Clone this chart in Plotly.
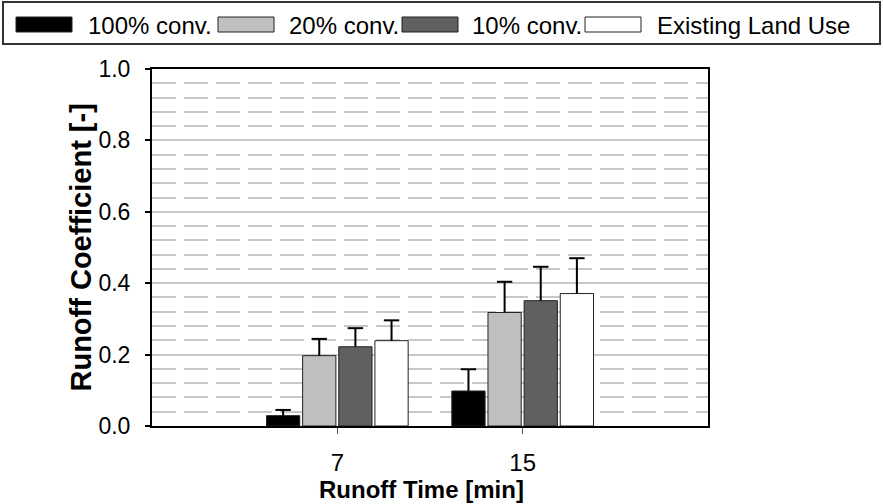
import plotly.graph_objects as go

# ---- data ----
times = ["7", "15"]
series_names = ["100% conv.", "20% conv.", "10% conv.", "Existing Land Use"]
series_colors = ["#000000", "#c0c0c0", "#606060", "#ffffff"]
conv100 = [0.029, 0.098]
conv20 = [0.197, 0.318]
conv10 = [0.222, 0.351]
existing = [0.239, 0.371]
err100 = [0.016, 0.061]
err20 = [0.047, 0.086]
err10 = [0.052, 0.095]
err_existing = [0.057, 0.099]
y_ticks = [0.0, 0.2, 0.4, 0.6, 0.8, 1.0]

values = [conv100, conv20, conv10, existing]
errors = [err100, err20, err10, err_existing]

W, H = 883, 504
L, R, T, B = 152, 175, 69, 78
PW, PH = W - L - R, H - T - B

def px(x):
    return (x - L) / PW

def py(y):
    return (H - B - y) / PH

FONT = "Liberation Sans, Arial, sans-serif"
BARGAP = 0.22

fig = go.Figure()
for name, col, vals, errs in zip(series_names, series_colors, values, errors):
    fig.add_trace(go.Bar(
        x=times, y=vals, name=name, offsetgroup=name, alignmentgroup="g",
        marker=dict(color=col, line=dict(color="#222222", width=1)),
        error_y=dict(type="data", array=errs, arrayminus=[0] * len(errs),
                     symmetric=False, color="#000000", thickness=2, width=0),
        showlegend=False,
    ))
# caps of the (upper-only) error bars
for name, vals, errs in zip(series_names, values, errors):
    fig.add_trace(go.Scatter(
        x=times, y=[v + e for v, e in zip(vals, errs)], mode="markers",
        offsetgroup=name, alignmentgroup="g",
        marker=dict(symbol="line-ew", size=11, color="black",
                    line=dict(color="black", width=2)),
        showlegend=False, hoverinfo="skip",
    ))

fig.update_layout(
    width=W, height=H,
    margin=dict(l=L, r=R, t=T, b=B, autoexpand=False),
    paper_bgcolor="white", plot_bgcolor="white",
    barmode="group", bargap=BARGAP, bargroupgap=0.08,
    scattermode="group", scattergap=BARGAP,
    font=dict(family=FONT, color="black", size=22),
)

fig.update_xaxes(
    type="category", range=[-1, 2],
    showline=True, mirror=True, linecolor="black", linewidth=2,
    ticks="outside", ticklen=6, tickcolor="#555555", tickwidth=1,
    tickfont=dict(size=24), ticklabelstandoff=8,
    showgrid=False, zeroline=False,
)
fig.update_yaxes(
    range=[0, 1.0], tickvals=y_ticks, tickformat=".1f",
    showline=True, mirror=True, linecolor="black", linewidth=2,
    ticks="outside", ticklen=5, tickcolor="black", tickwidth=2,
    tickfont=dict(size=23), ticklabelstandoff=10,
    showgrid=True, gridcolor="#c8c8c8", gridwidth=1.5,
    zeroline=False,
    minor=dict(tick0=0, dtick=0.04, showgrid=True, gridcolor="#c8c8c8",
               gridwidth=1.5, griddash="24px,8px", ticks=""),
)

annotations = [
    dict(text="<b>Runoff Coefficient [-]</b>", xref="paper", yref="paper",
         x=px(80), y=0.5, textangle=-90, showarrow=False,
         xanchor="center", yanchor="middle", font=dict(size=29)),
    dict(text="<b>Runoff Time [min]</b>", xref="paper", yref="paper",
         x=px(421), y=py(489), showarrow=False,
         xanchor="center", yanchor="middle", font=dict(size=24)),
]
shapes = [
    dict(type="rect", xref="paper", yref="paper",
         x0=px(3), x1=px(880), y0=py(44), y1=py(2),
         line=dict(color="#333333", width=2), fillcolor="white", layer="above"),
]
sw_x = [16, 218, 402, 585]
tx_x = [86, 287, 470, 655]
for name, col, sx, tx in zip(series_names, series_colors, sw_x, tx_x):
    shapes.append(dict(type="rect", xref="paper", yref="paper",
                       x0=px(sx), x1=px(sx + 56), y0=py(32), y1=py(17),
                       fillcolor=col, line=dict(color="#222222", width=1),
                       layer="above"))
    annotations.append(dict(text=name, xref="paper", yref="paper",
                            x=px(tx), y=py(25), showarrow=False,
                            xanchor="left", yanchor="middle",
                            font=dict(size=24)))

fig.update_layout(shapes=shapes, annotations=annotations)
fig.write_html("out.html")
